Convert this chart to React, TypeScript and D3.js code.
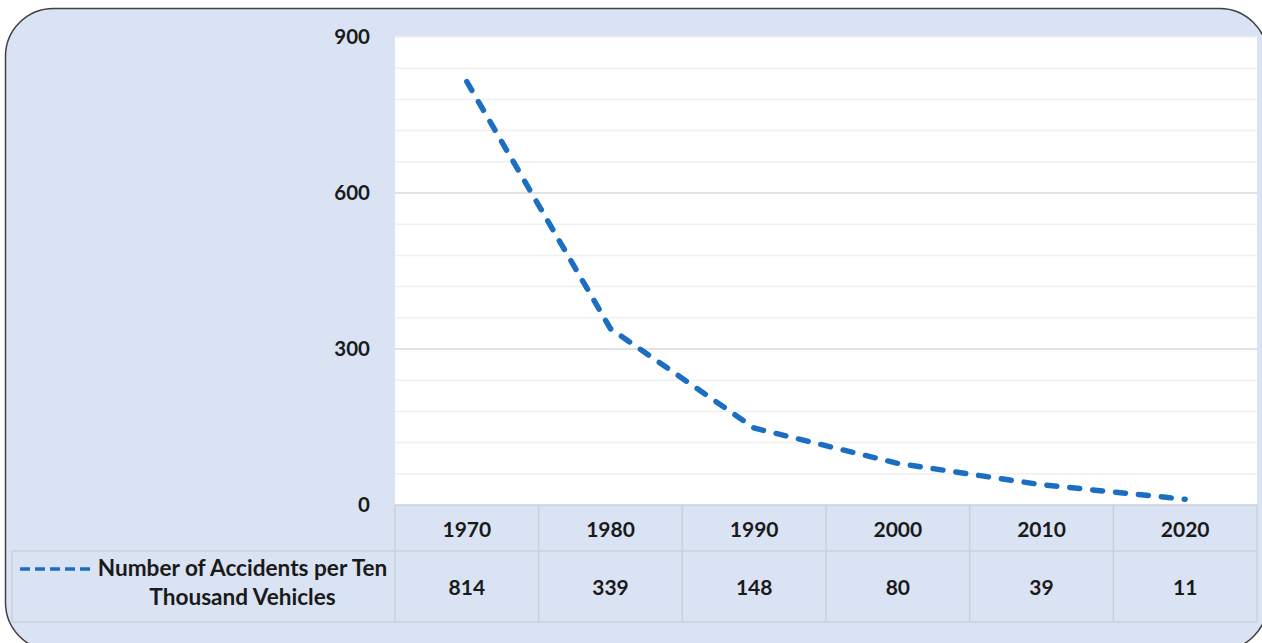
import React from "react";
import * as d3 from "d3";

const years = ["1970", "1980", "1990", "2000", "2010", "2020"];
const accidents = [814, 339, 148, 80, 39, 11];
const majorTicks = [0, 300, 600, 900];
const minorTicks = d3.range(0, 901, 60);
const seriesName = ["Number of Accidents per Ten", "Thousand Vehicles"];

const W = 1262;
const H = 643;
const plotLeft = 395;
const plotRight = 1257;
const plotTop = 37;
const plotBottom = 505;
const row1Bottom = 551;
const row2Bottom = 622;
const tableLeft = 12;

const FONT = "Lato, 'Open Sans', sans-serif";
const TXT = "#1a1a1a";
const LINE = "#1B6EC2";
const BORDER = "#cbd0d8";

export default function App() {
  const x = d3.scaleBand<string>().domain(years).range([plotLeft, plotRight]);
  const y = d3.scaleLinear().domain([0, 900]).range([plotBottom, plotTop]);
  const line = d3
    .line<number>()
    .x((_, i) => (x(years[i]) as number) + x.bandwidth() / 2)
    .y((d) => y(d));

  return (
    <svg
      width={W}
      height={H}
      style={{ position: "absolute", left: 0, top: 0, display: "block" }}
    >
      <rect width={W} height={H} fill="#ffffff" />
      <rect
        x={5.5}
        y={8.5}
        width={1262}
        height={642}
        rx={48}
        ry={48}
        fill="#dae3f3"
        stroke="#404040"
        strokeWidth={1.5}
      />
      {/* plot area */}
      <rect
        x={plotLeft}
        y={plotTop}
        width={plotRight - plotLeft}
        height={plotBottom - plotTop}
        fill="#ffffff"
      />
      {minorTicks
        .filter((t) => t % 300 !== 0 || t === 900)
        .map((t) => (
          <line
            key={"mn" + t}
            x1={plotLeft}
            x2={plotRight}
            y1={y(t)}
            y2={y(t)}
            stroke="#f0f0f0"
            strokeWidth={1.5}
          />
        ))}
      {majorTicks
        .filter((t) => t !== 0 && t !== 900)
        .map((t) => (
          <line
            key={"mj" + t}
            x1={plotLeft}
            x2={plotRight}
            y1={y(t)}
            y2={y(t)}
            stroke="#d9d9d9"
            strokeWidth={1.5}
          />
        ))}
      {majorTicks.map((t) => (
        <text
          key={"yl" + t}
          x={370}
          y={y(t) - 1}
          textAnchor="end"
          dominantBaseline="central"
          fontFamily={FONT}
          fontWeight="bold"
          fontSize={20.5}
          fill={TXT}
        >
          {t}
        </text>
      ))}
      {/* data table */}
      <line x1={plotLeft} x2={plotRight} y1={plotBottom} y2={plotBottom} stroke={BORDER} strokeWidth={1.5} />
      <line x1={tableLeft} x2={plotRight} y1={row1Bottom} y2={row1Bottom} stroke={BORDER} strokeWidth={1.5} />
      <line x1={tableLeft} x2={plotRight} y1={row2Bottom} y2={row2Bottom} stroke={BORDER} strokeWidth={1.5} />
      <line x1={tableLeft} x2={tableLeft} y1={row1Bottom} y2={row2Bottom} stroke={BORDER} strokeWidth={1.5} />
      {years.map((yr) => (
        <line
          key={"v" + yr}
          x1={x(yr) as number}
          x2={x(yr) as number}
          y1={plotBottom}
          y2={row2Bottom}
          stroke={BORDER}
          strokeWidth={1.5}
        />
      ))}
      <line x1={plotRight} x2={plotRight} y1={plotBottom} y2={row2Bottom} stroke={BORDER} strokeWidth={1.5} />
      {years.map((yr) => (
        <text
          key={"yt" + yr}
          x={(x(yr) as number) + x.bandwidth() / 2}
          y={(plotBottom + row1Bottom) / 2}
          textAnchor="middle"
          dominantBaseline="central"
          fontFamily={FONT}
          fontWeight="bold"
          fontSize={21}
          fill={TXT}
        >
          {yr}
        </text>
      ))}
      {accidents.map((v, i) => (
        <text
          key={"val" + i}
          x={(x(years[i]) as number) + x.bandwidth() / 2}
          y={(row1Bottom + row2Bottom) / 2}
          textAnchor="middle"
          dominantBaseline="central"
          fontFamily={FONT}
          fontWeight="bold"
          fontSize={21}
          fill={TXT}
        >
          {v}
        </text>
      ))}
      {/* legend key */}
      <line
        x1={20}
        x2={90}
        y1={569}
        y2={569}
        stroke={LINE}
        strokeWidth={3.5}
        strokeDasharray="10 5"
      />
      {seriesName.map((s, i) => (
        <text
          key={"sn" + i}
          x={242.5}
          y={567 + i * 29}
          textAnchor="middle"
          dominantBaseline="central"
          fontFamily={FONT}
          fontWeight="bold"
          fontSize={22.6}
          fill={TXT}
        >
          {s}
        </text>
      ))}
      {/* series line */}
      <path
        d={line(accidents) || ""}
        fill="none"
        stroke={LINE}
        strokeWidth={5.5}
        strokeLinecap="round"
        strokeDasharray="10 13"
      />
    </svg>
  );
}
